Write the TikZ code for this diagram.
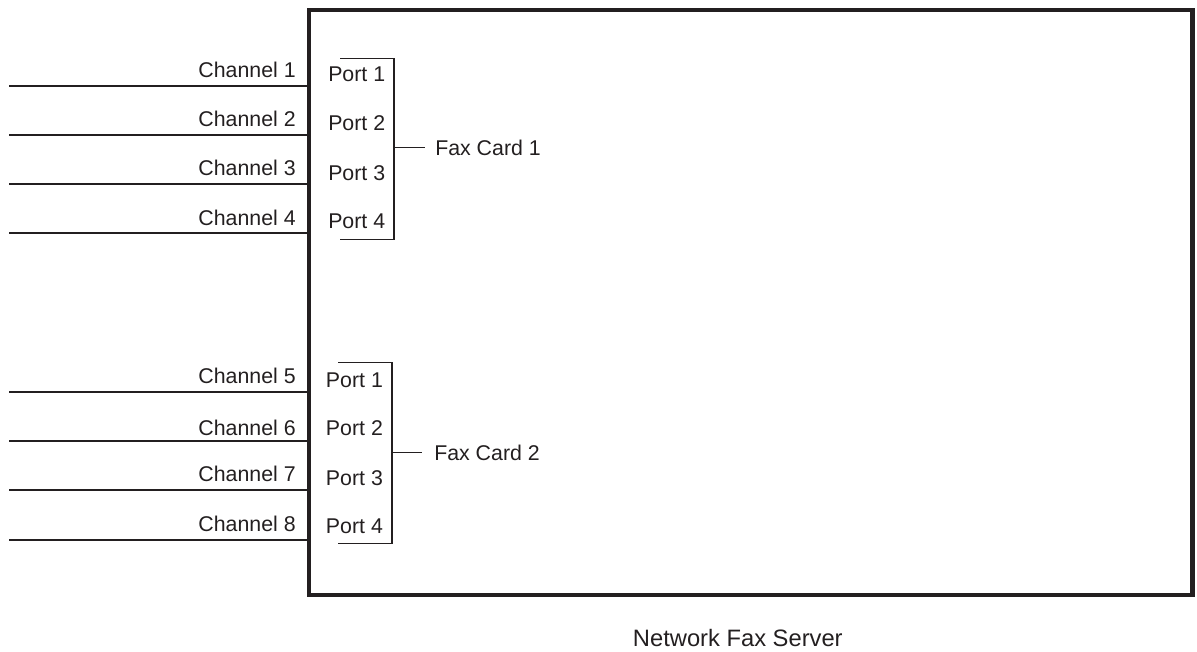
\documentclass[tikz,border=0pt]{standalone}
\usepackage{fontspec}
\setmainfont{Liberation Sans}
\definecolor{ink}{HTML}{231F20}
\begin{document}
\begin{tikzpicture}[x=0.75pt,y=-0.75pt,
  lbl/.style={inner sep=0pt,font=\fontsize{16}{19}\selectfont,text=ink},
  chan/.style={lbl,anchor=base east},
  port/.style={lbl,anchor=base west},
  wire/.style={draw=ink,line width=1.5pt},
  bracket/.style={draw=ink,line width=1.1pt},
  frame/.style={draw=ink,line width=3.4pt}]
\useasboundingbox (0,0) rectangle (1197,651);
% server box
\coordinate (tl) at (309,10);
\coordinate (br) at (1192.5,595);
\draw[frame] (tl) rectangle (br);
% channels
\foreach \i/\ly/\by in {1/85.7/77.3,2/134.8/126.5,3/184/175.5,4/233.3/225,5/391.7/383,6/440.7/435,7/490.3/481.7,8/540/531.7}{
  \coordinate (s\i) at (9,\ly);
  \coordinate (e\i) at (309,\ly);
  \node[chan] (ch\i) at (296,\by) {Channel \i};
  \draw[wire] (s\i) -- (e\i);
}
% card 1 ports
\foreach \i/\by in {1/81.7,2/130.7,3/180,4/228.3}{
  \node[port] (pa\i) at (328,\by) {Port \i};
}
% card 2 ports
\foreach \i/\by in {1/387.3,2/435.5,3/485,4/533}{
  \node[port] (pb\i) at (325.7,\by) {Port \i};
}
% card 1 bracket
\coordinate (a1) at (340,58.3);
\coordinate (a2) at (394,58.3);
\coordinate (a3) at (394,239.3);
\coordinate (a4) at (340,239.3);
\draw[bracket] (a1) -- (a2) -- (a3) -- (a4);
\node[port] (fc1) at (435,155) {Fax Card 1};
\draw[bracket] (394,147.5) -- (425,147.5);
% card 2 bracket
\coordinate (b1) at (338,362.7);
\coordinate (b2) at (392,362.7);
\coordinate (b3) at (392,543.3);
\coordinate (b4) at (338,543.3);
\draw[bracket] (b1) -- (b2) -- (b3) -- (b4);
\node[port] (fc2) at (434,460) {Fax Card 2};
\draw[bracket] (392,452.5) -- (421.7,452.5);
% title
\node[lbl,anchor=base west,font=\fontsize{17.8}{21}\selectfont] (title) at (632.7,646) {Network Fax Server};
\end{tikzpicture}
\end{document}
